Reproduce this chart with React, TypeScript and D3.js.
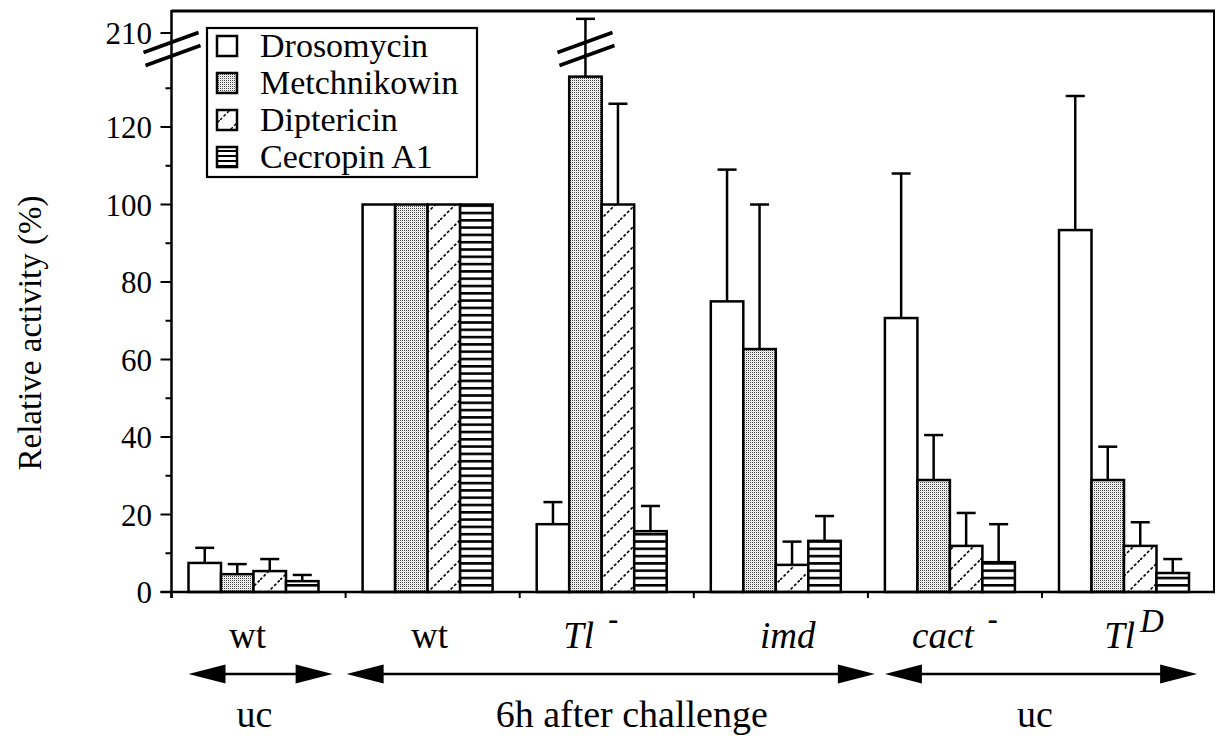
import React from 'react';
import * as d3 from 'd3';

// ---------- data ----------
const groups = ['wt uc', 'wt', 'Tl-', 'imd', 'cact-', 'TlD'];
const seriesNames = ['Drosomycin', 'Metchnikowin', 'Diptericin', 'Cecropin A1'];

const drosomycin = [7.5, 100, 17.5, 75, 70.7, 93.4];
const drosomycinTop = [11.4, null, 23.2, 109, 108, 128];
const metchnikowin = [4.6, 100, 133, 62.7, 28.9, 28.9];
const metchnikowinTop = [7.2, null, 270, 100, 40.5, 37.5];
const diptericin = [5.4, 100, 100, 7, 11.9, 11.9];
const diptericinTop = [8.5, null, 126, 13, 20.4, 18];
const cecropin = [2.8, 100, 15.7, 13.2, 7.7, 4.9];
const cecropinTop = [4.4, null, 22.2, 19.6, 17.5, 8.5];

const yMajorTicks = [0, 20, 40, 60, 80, 100, 120];
const yMinorTicks = [10, 30, 50, 70, 90, 110, 130];
const yBreakTick = 210;
const breakValue = 140;

// x-axis labels: base text (italic?), superscript
const groupLabels = [
  { base: 'wt', italic: false, sup: '' },
  { base: 'wt', italic: false, sup: '' },
  { base: 'Tl', italic: true, sup: '-' },
  { base: 'imd', italic: true, sup: '' },
  { base: 'cact', italic: true, sup: '-' },
  { base: 'Tl', italic: true, sup: 'D' },
];

const spans = [
  { label: 'uc', from: 0, to: 0 },
  { label: '6h after challenge', from: 1, to: 3 },
  { label: 'uc', from: 4, to: 5 },
];

// ---------- layout ----------
const W = 1216;
const H = 736;
const left = 171.5;
const right = 1214;
const top = 11;
const bottom = 592;
const FONT = "'Liberation Serif', 'Times New Roman', Times, serif";
const TXT = { fontFamily: FONT } as React.CSSProperties;
const groupLabelDx = [-6, 2, -11, 12, 5, 10];
const arrowPad = [[17, -13], [1, 7], [17, -19]];
const spanLabelDx = [-6, 21, -6];

const series = [
  { name: seriesNames[0], values: drosomycin, tops: drosomycinTop, fill: '#ffffff' },
  { name: seriesNames[1], values: metchnikowin, tops: metchnikowinTop, fill: 'url(#stipple)' },
  { name: seriesNames[2], values: diptericin, tops: diptericinTop, fill: 'url(#diag)' },
  { name: seriesNames[3], values: cecropin, tops: cecropinTop, fill: 'url(#hlines)' },
];

export default function App() {
  const x = d3.scaleBand<string>().domain(groups).range([left, left + 174.1 * 6]).padding(0);
  const inner = d3.scaleBand<string>().domain(seriesNames).range([17, 17 + 130]).padding(0);
  const y = d3
    .scaleLinear()
    .domain([0, breakValue, yBreakTick])
    .range([bottom, bottom - breakValue * 3.875, 33]);

  const bw = inner.bandwidth();
  const breakY = y(breakValue);

  const breakMarks = (cx: number, key: string) => (
    <g key={key} stroke="#000" strokeWidth={3.5} strokeLinecap="butt">
      <line x1={cx - 28} y1={breakY + 3} x2={cx + 27} y2={breakY - 17} />
      <line x1={cx - 26} y1={breakY + 16} x2={cx + 29} y2={breakY - 4} />
    </g>
  );

  return (
    <svg
      width={W}
      height={H}
      style={{ position: 'absolute', left: 0, top: 0, background: '#fff', fontFamily: FONT }}
    >
      <defs>
        <pattern id="stipple" width={2} height={2} patternUnits="userSpaceOnUse">
          <rect width={2} height={2} fill="#ffffff" />
          <rect x={0} y={0} width={1} height={1} fill="#444" />
          <rect x={1} y={1} width={1} height={1} fill="#d8d8d8" />
        </pattern>
        <pattern id="diag" width={20} height={20} patternUnits="userSpaceOnUse">
          <rect width={20} height={20} fill="#fff" />
          <line x1={0} y1={20} x2={20} y2={0} stroke="#000" strokeWidth={1.6} strokeDasharray="3 2" />
        </pattern>
        <pattern id="hlines" width={8} height={7.3} patternUnits="userSpaceOnUse">
          <rect width={8} height={7.3} fill="#fff" />
          <rect y={0} width={8} height={2.6} fill="#000" />
        </pattern>
        <pattern id="diagLegend" width={20} height={20} patternUnits="userSpaceOnUse">
          <rect width={20} height={20} fill="#fff" />
          <line x1={0} y1={20} x2={20} y2={0} stroke="#000" strokeWidth={1.4} strokeDasharray="3 2" />
        </pattern>
        <pattern id="hlinesLegend" width={8} height={5} patternUnits="userSpaceOnUse">
          <rect width={8} height={5} fill="#fff" />
          <rect y={0} width={8} height={2} fill="#000" />
        </pattern>
      </defs>

      {/* bars */}
      {groups.map((g, gi) => (
        <g key={g}>
          {series.map((s) => {
            const bx = (x(g) as number) + (inner(s.name) as number);
            const v = s.values[gi];
            return (
              <rect
                key={s.name}
                x={bx}
                y={y(v)}
                width={bw}
                height={bottom - y(v)}
                fill={s.fill}
                stroke="#000"
                strokeWidth={2.5}
              />
            );
          })}
        </g>
      ))}

      {/* error bars */}
      {groups.map((g, gi) =>
        series.map((s) => {
          const t = s.tops[gi];
          if (t == null) return null;
          const cx = (x(g) as number) + (inner(s.name) as number) + bw / 2;
          return (
            <g key={g + s.name} stroke="#000" strokeWidth={2.5}>
              <line x1={cx} x2={cx} y1={y(s.values[gi])} y2={y(t)} />
              <line x1={cx - 9.5} x2={cx + 9.5} y1={y(t)} y2={y(t)} />
            </g>
          );
        })
      )}

      {/* break on the Tl- Metchnikowin bar */}
      {breakMarks((x('Tl-') as number) + (inner('Metchnikowin') as number) + bw / 2, 'barbreak')}

      {/* frame */}
      <g stroke="#000" fill="none">
        <line x1={left} x2={right + 1} y1={top} y2={top} strokeWidth={3} />
        <line x1={right} x2={right} y1={top} y2={bottom} strokeWidth={2} />
        <line x1={left} x2={left} y1={top - 1} y2={bottom + 6} strokeWidth={2.5} />
        <line x1={left - 11} x2={right + 1} y1={bottom} y2={bottom} strokeWidth={2.5} />
        {groups.map((g) => (
          <line key={g} x1={x(g) as number} x2={x(g) as number} y1={bottom} y2={bottom + 6} strokeWidth={2} />
        ))}
      </g>

      {/* y axis ticks */}
      <g stroke="#000" strokeWidth={2}>
        {yMajorTicks.concat([yBreakTick]).map((t) => (
          <line key={'M' + t} x1={left - 11} x2={left} y1={y(t)} y2={y(t)} />
        ))}
        {yMinorTicks.map((t) => (
          <line key={'m' + t} x1={left - 6} x2={left} y1={y(t)} y2={y(t)} />
        ))}
      </g>
      <g fontSize={31} textAnchor="end" fill="#000">
        {yMajorTicks.concat([yBreakTick]).map((t) => (
          <text key={t} x={152} y={y(t) + 11} style={TXT}>
            {t}
          </text>
        ))}
      </g>
      {breakMarks(left, 'axisbreak')}

      {/* y axis title */}
      <text
        transform={`translate(41, 333) rotate(-90)`}
        textAnchor="middle"
        fontSize={33}
        fill="#000"
        style={TXT}
      >
        Relative activity (%)
      </text>

      {/* group labels */}
      {groupLabels.map((l, i) => {
        const cx = (x(groups[i]) as number) + 17 + 65 + groupLabelDx[i];
        return (
          <text key={i} x={cx} y={648} textAnchor="middle" fontSize={37} fill="#000" style={TXT}>
            <tspan fontStyle={l.italic ? 'italic' : 'normal'}>{l.base}</tspan>
            {l.sup === '-' && (
              <tspan dx={14} dy={-19} fontWeight="bold" fontSize={30}>
                -
              </tspan>
            )}
            {l.sup === 'D' && (
              <tspan dx={5} dy={-16} fontStyle="italic" fontSize={33}>
                D
              </tspan>
            )}
          </text>
        );
      })}

      {/* arrows and condition labels */}
      {spans.map((s, i) => {
        const x1 = (x(groups[s.from]) as number) + arrowPad[i][0];
        const x2 = (x(groups[s.to]) as number) + x.bandwidth() + arrowPad[i][1];
        const ay = 674;
        const hl = 37;
        const hh = 9.5;
        return (
          <g key={i}>
            <line x1={x1 + 10} x2={x2 - 10} y1={ay} y2={ay} stroke="#000" strokeWidth={2.5} />
            <polygon points={`${x1},${ay} ${x1 + hl},${ay - hh} ${x1 + hl},${ay + hh}`} fill="#000" />
            <polygon points={`${x2},${ay} ${x2 - hl},${ay - hh} ${x2 - hl},${ay + hh}`} fill="#000" />
            <text
              x={(x1 + x2) / 2 + spanLabelDx[i]}
              y={727}
              textAnchor="middle"
              fontSize={38}
              fill="#000"
              style={TXT}
            >
              {s.label}
            </text>
          </g>
        );
      })}

      {/* legend */}
      <g>
        <rect x={207} y={28} width={270} height={149} fill="#fff" stroke="#000" strokeWidth={2.2} />
        {series.map((s, i) => {
          const cy = 46 + i * 37;
          const fill =
            i === 2 ? 'url(#diagLegend)' : i === 3 ? 'url(#hlinesLegend)' : s.fill;
          return (
            <g key={s.name}>
              <rect x={217} y={cy - 10} width={20} height={20} fill={fill} stroke="#000" strokeWidth={2.5} />
              <text x={260} y={cy + 11} fontSize={34} fill="#000" style={TXT}>
                {s.name}
              </text>
            </g>
          );
        })}
      </g>
    </svg>
  );
}
